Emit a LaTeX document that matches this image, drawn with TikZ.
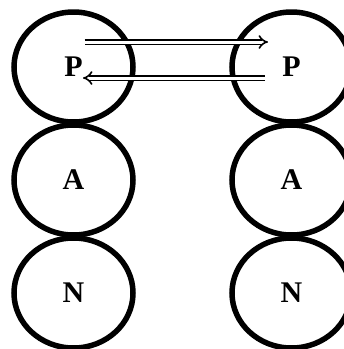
\documentclass[tikz,border=0pt]{standalone}
\usepackage{fontspec}
\setmainfont{Liberation Serif}
\usetikzlibrary{shapes,arrows,positioning,calc,arrows.meta}

\begin{document}
\begin{tikzpicture}[x=1pt, y=-1pt, node distance=113pt, on grid,
  blob/.style={draw, ellipse, line width=5.5pt, minimum width=119pt,
    minimum height=110pt, inner sep=0pt,
    font=\fontsize{30}{30}\selectfont\bfseries},
  pass/.style={double, double distance=3pt, line width=1.6pt,
    -{Implies[scale=1.8]}}]

  \useasboundingbox (0,0) rectangle (344,349);

  % Left column
  \node[blob] (pL) at (73.5,67) {P};
  \node[blob] (aL) [below=of pL] {A};
  \node[blob] (nL) [below=of aL] {N};

  % Right column
  \node[blob] (pR) [right=218pt of pL] {P};
  \node[blob] (aR) [below=of pR] {A};
  \node[blob] (nR) [below=of aR] {N};

  % Arrow ends inside the P circles
  \coordinate (outL) at ([shift={(11pt,25pt)}]pL.center);
  \coordinate (inR)  at ([shift={(-23.5pt,25pt)}]pR.center);
  \coordinate (outR) at ([shift={(-26.5pt,-11pt)}]pR.center);
  \coordinate (inL)  at ([shift={(9.5pt,-11pt)}]pL.center);

  % Arrows between the P circles
  \draw[pass] (outL) -- (inR);
  \draw[pass] (outR) -- (inL);

\end{tikzpicture}
\end{document}
